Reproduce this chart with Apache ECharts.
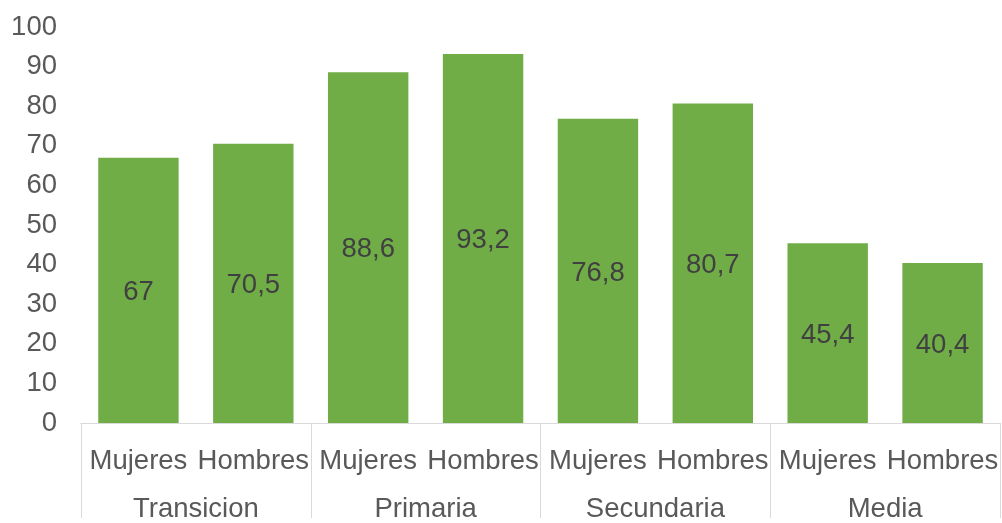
<!DOCTYPE html>
<html>
<head>
<meta charset="utf-8">
<script src="https://cdn.jsdelivr.net/npm/echarts@6/dist/echarts.min.js"></script>
<style>
html,body{margin:0;padding:0;background:#fff;}
#chart{width:1002px;height:523px;}
</style>
</head>
<body>
<div id="chart"></div>
<script>
var sexes = ['Mujeres','Hombres','Mujeres','Hombres','Mujeres','Hombres','Mujeres','Hombres'];
var groups = ['Transicion','Primaria','Secundaria','Media'];
var values = [67, 70.5, 88.6, 93.2, 76.8, 80.7, 45.4, 40.4];
var yTicks = [0, 10, 20, 30, 40, 50, 60, 70, 80, 90, 100];

var FONT = '"Liberation Sans", Arial, sans-serif';
var FS = 27.5;
var chart = echarts.init(document.getElementById('chart'));
chart.setOption({
  animation: false,
  grid: {left: 81, right: 2, top: 27, bottom: 92},
  xAxis: [
    {
      type: 'category',
      data: sexes,
      position: 'bottom',
      axisLine: {show: true, lineStyle: {color: '#d9d9d9', width: 1}},
      axisTick: {show: false},
      axisLabel: {interval: 0, color: '#595959', fontSize: FS, fontFamily: FONT, margin: 24}
    },
    {
      type: 'category',
      data: groups,
      position: 'bottom',
      offset: 0,
      axisLine: {show: true, lineStyle: {color: '#d9d9d9', width: 1}},
      axisTick: {show: true, length: 95, interval: 0, lineStyle: {color: '#d9d9d9', width: 1}},
      axisLabel: {interval: 0, color: '#595959', fontSize: FS, fontFamily: FONT, margin: 72}
    }
  ],
  yAxis: {
    type: 'value',
    min: yTicks[0],
    max: yTicks[yTicks.length - 1],
    interval: 10,
    axisLine: {show: false},
    axisTick: {show: false},
    splitLine: {show: false},
    axisLabel: {color: '#595959', fontSize: FS, fontFamily: FONT, margin: 24}
  },
  series: [{
    type: 'bar',
    xAxisIndex: 0,
    data: values,
    barWidth: '70%',
    itemStyle: {color: '#70AD47'},
    label: {
      show: true,
      position: 'inside',
      offset: [0, 2],
      color: '#404040',
      fontSize: FS,
      fontFamily: FONT,
      formatter: function (p) { return String(p.value).replace('.', ','); }
    }
  }]
});
</script>
</body>
</html>
